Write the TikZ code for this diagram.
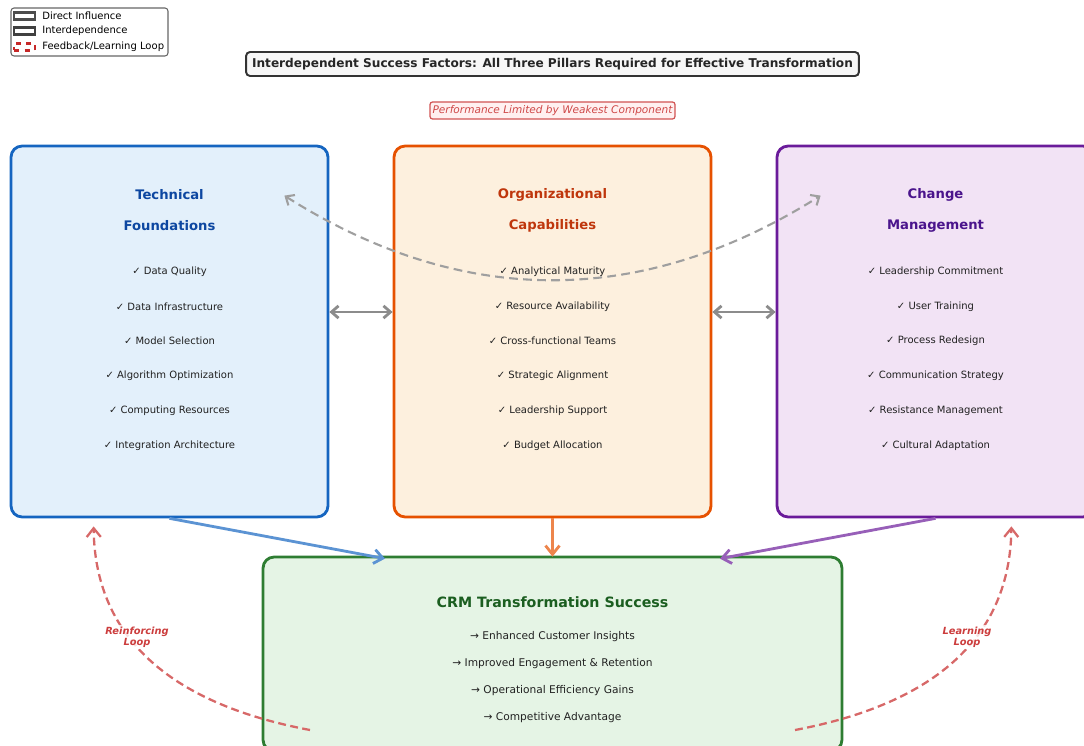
\documentclass[tikz,border=0pt]{standalone}
\usepackage{fontspec}
\setmainfont{DejaVu Sans}
\usetikzlibrary{arrows.meta}

% pillar colours
\definecolor{techline}{HTML}{1565C0}
\definecolor{techfill}{HTML}{E3F0FB}
\definecolor{techtext}{HTML}{0D47A1}
\definecolor{orgline}{HTML}{E65100}
\definecolor{orgfill}{HTML}{FDF0DE}
\definecolor{orgtext}{HTML}{BF360C}
\definecolor{chgline}{HTML}{6A1B9A}
\definecolor{chgfill}{HTML}{F2E3F5}
\definecolor{chgtext}{HTML}{4A148C}
\definecolor{crmline}{HTML}{2E7D32}
\definecolor{crmfill}{HTML}{E5F4E5}
\definecolor{crmtext}{HTML}{1B5E20}
\definecolor{loopred}{HTML}{C62828}
\definecolor{itemtext}{HTML}{212121}

\begin{document}
\begin{tikzpicture}[x=0.02cm,y=-0.02cm,
    pillar/.style={draw, rounded corners=0.22cm, line width=1.6pt,
      minimum width=6.34cm, minimum height=7.42cm},
    head/.style={font=\fontsize{7.5}{9}\bfseries},
    item/.style={text=itemtext, font=\fontsize{5.7}{7}\selectfont},
    flow/.style={-{Straight Barb[length=5pt,width=8pt]}, line width=1.6pt},
    link/.style={{Straight Barb[length=4pt,width=7pt]}-{Straight Barb[length=4pt,width=7pt]},
      line width=1.6pt, draw=gray!90},
    loop/.style={-{Straight Barb[length=5pt,width=8pt]}, dashed, dash pattern=on 4.5pt off 2.5pt,
      line width=1.3pt, draw=loopred!70},
    looplabel/.style={fill=white, fill opacity=0.8, text opacity=1, text=loopred!90,
      align=center, inner sep=1pt, font=\fontsize{5.6}{6.4}\bfseries\itshape},
    patch/.style={minimum width=0.42cm, minimum height=0.14cm, inner sep=0pt, fill=white},
    legtext/.style={anchor=west, inner sep=0pt, font=\fontsize{5.7}{6.5}\selectfont}]
  \clip (0,0) rectangle (1084,746);

  % legend
  \node[draw=gray!80!black, rounded corners=0.06cm, line width=0.6pt,
    minimum width=3.14cm, minimum height=0.96cm] (legend) at (89.5,32) {};
  \node[patch, draw=black!70, line width=1.2pt] (lg1) at (24.5,16) {};
  \node[patch, draw=black!75, line width=1.5pt] (lg2) at (24.5,31) {};
  \node[patch, draw=loopred, line width=1.4pt, dashed] (lg3) at (24.5,47) {};
  \node[legtext] at (42,16) {Direct Influence};
  \node[legtext] at (42,31) {Interdependence};
  \node[legtext] at (42,47) {Feedback/Learning Loop};

  % title and note
  \node[draw=black!80, fill=black!3, rounded corners=0.08cm, line width=1.1pt,
    minimum width=12.26cm, minimum height=0.48cm, text=black!85,
    font=\fontsize{6.9}{8}\bfseries] (title) at (552.5,64)
    {Interdependent Success Factors: All Three Pillars Required for Effective Transformation};
  \node[draw=loopred!80, fill=red!6, rounded corners=0.05cm, line width=0.7pt,
    minimum width=4.9cm, minimum height=0.34cm, inner sep=1pt, text=loopred!85,
    font=\fontsize{6}{7}\itshape] (limit) at (552.5,110.5)
    {Performance Limited by Weakest Component};

  % the three pillars
  \node[pillar, draw=techline, fill=techfill] (tech) at (169.5,331.5) {};
  \node[pillar, draw=orgline, fill=orgfill] (org) at (552.5,331.5) {};
  \node[pillar, draw=chgline, fill=chgfill] (chg) at (935.5,331.5) {};

  \node[head, text=techtext] (techA) at (169.5,195) {Technical};
  \node[head, text=techtext] (techB) at (169.5,226) {Foundations};
  \node[head, text=orgtext] (orgA) at (552.5,195) {Organizational};
  \node[head, text=orgtext] (orgB) at (552.5,226) {Capabilities};
  \node[head, text=chgtext] (chgA) at (935.5,195) {Change};
  \node[head, text=chgtext] (chgB) at (935.5,226) {Management};

  \foreach \t [count=\i] in {Data Quality, Data Infrastructure, Model Selection,
      Algorithm Optimization, Computing Resources, Integration Architecture}
    \node[item] (tech\i) at (169.5,{271.5+34.8*(\i-1)}) {✓ \t};
  \foreach \t [count=\i] in {Analytical Maturity, Resource Availability, Cross-functional Teams,
      Strategic Alignment, Leadership Support, Budget Allocation}
    \node[item] (org\i) at (552.5,{271.5+34.8*(\i-1)}) {✓ \t};
  \foreach \t [count=\i] in {Leadership Commitment, User Training, Process Redesign,
      Communication Strategy, Resistance Management, Cultural Adaptation}
    \node[item] (chg\i) at (935.5,{271.5+34.8*(\i-1)}) {✓ \t};

  % outcome box
  \node[pillar, draw=crmline, fill=crmfill, minimum width=11.58cm, minimum height=3.88cm]
    (crm) at (552.5,654) {};
  \node[text=crmtext, font=\fontsize{8.1}{9}\bfseries] (crmA) at (552.5,602.5) {CRM Transformation Success};
  \foreach \t [count=\i] in {Enhanced Customer Insights, Improved Engagement \& Retention,
      Operational Efficiency Gains, Competitive Advantage}
    \node[item, font=\fontsize{6.05}{7}\selectfont] (crm\i) at (552.5,{636.5+27*(\i-1)}) {→ \t};

  % interdependence
  \draw[link] ([yshift=0.39cm]tech.east) to ([yshift=0.39cm]org.west);
  \draw[link] ([yshift=0.39cm]org.east) to ([yshift=0.39cm]chg.west);
  \draw[link, draw=gray!75, line width=1.2pt, dash pattern=on 5pt off 3pt]
    ([xshift=-0.9cm,yshift=-1.02cm]tech.north east) .. controls (462,308) and (642,308)
    .. ([xshift=0.9cm,yshift=-1.02cm]chg.north west);

  % direct influence
  \draw[flow, draw=techline!70] (tech.south) to ([xshift=-3.35cm,yshift=-0.06cm]crm.north);
  \draw[flow, draw=orgline!70] (org.south) to ([yshift=-0.02cm]crm.north);
  \draw[flow, draw=chgline!70] (chg.south) to ([xshift=3.35cm,yshift=-0.06cm]crm.north);

  % feedback loops
  \coordinate (reinforce) at (310,730);
  \coordinate (learn) at (795,730);
  \draw[loop] (reinforce) .. controls (167,703) and (95,635) .. ([xshift=1.68cm,yshift=-0.16cm]tech.south west);
  \draw[loop] (learn) .. controls (938,703) and (1010,635) .. ([xshift=-1.68cm,yshift=-0.16cm]chg.south east);
  \node[looplabel] (reinforceL) at (137,637) {Reinforcing\\Loop};
  \node[looplabel] (learnL) at (967,637) {Learning\\Loop};
\end{tikzpicture}
\end{document}
